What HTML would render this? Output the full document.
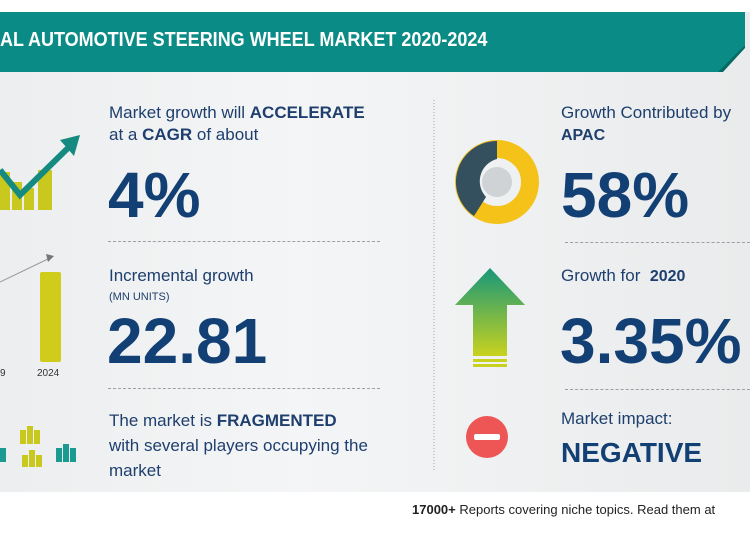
<!DOCTYPE html>
<html><head><meta charset="utf-8"><style>
body{margin:0;width:750px;height:536px;overflow:hidden;position:relative;font-family:"Liberation Sans",sans-serif;background:#fff}
.bg{position:absolute;left:0;top:12px;width:750px;height:480px;background:linear-gradient(90deg,#eceeef,#f4f5f6 40%,#eef0f1 70%,#e9ebec)}
.t{position:absolute;color:#1e3f6e;white-space:nowrap}
.n{font-weight:bold;color:#123f74;letter-spacing:0}
.sep{position:absolute;border-top:1px dashed #9aa0a5;height:0}
</style></head><body>
<div class="bg"></div>
<svg style="position:absolute;left:0;top:0" width="750" height="536">
<polygon points="0,12 745,12 745,45 720,72 0,72" fill="#0a8b85"/>
<polygon points="718,72 745,45 745,48 723,72" fill="#066a64"/>
<line x1="434" y1="100" x2="434" y2="470" stroke="#a0a5aa" stroke-dasharray="1,2"/>
<rect x="0" y="172" width="10" height="38" fill="#c8c81e"/>
<rect x="12" y="182" width="10" height="28" fill="#c8c81e"/>
<rect x="24" y="188" width="10" height="22" fill="#c8c81e"/>
<rect x="38" y="170" width="14" height="40" fill="#c8c81e"/>
<polyline points="0,170 20,195 68,148" fill="none" stroke="#148a80" stroke-width="6"/>
<polygon points="60,140 80,135 74,156" fill="#148a80"/>
<line x1="0" y1="282" x2="50" y2="258" stroke="#999" stroke-width="1"/>
<polygon points="46,254 54,256 48,262" fill="#777"/>
<rect x="40" y="272" width="21" height="90" rx="2" fill="#cfcc1c"/>
<text x="37" y="376" font-size="10" fill="#333" font-family="Liberation Sans">2024</text>
<text x="0" y="376" font-size="10" fill="#333" font-family="Liberation Sans">9</text>
<g fill="#c8c81e"><rect x="20" y="430" width="6" height="14"/><rect x="27" y="426" width="6" height="18"/><rect x="34" y="430" width="6" height="14"/>
<rect x="22" y="455" width="6" height="12"/><rect x="29" y="450" width="6" height="17"/><rect x="36" y="455" width="6" height="12"/></g>
<g fill="#1a9a90"><rect x="0" y="448" width="6" height="14"/><rect x="56" y="448" width="6" height="14"/><rect x="63" y="444" width="6" height="18"/><rect x="70" y="448" width="6" height="14"/></g>
<circle cx="497" cy="182" r="33" fill="none" stroke="#f5c21a" stroke-width="18"/>
<path d="M497 141 A41 41 0 0 0 474 216 L486 197 A23 23 0 0 1 497 159 Z" fill="#34505e"/>
<circle cx="497" cy="182" r="15" fill="#cfd3d6"/>
<defs><linearGradient id="g" x1="0" y1="0" x2="0" y2="1"><stop offset="0" stop-color="#16977a"/><stop offset="1" stop-color="#c8d21e"/></linearGradient></defs>
<polygon points="490,268 525,305 507,305 507,356 473,356 473,305 455,305" fill="url(#g)"/>
<rect x="473" y="359" width="34" height="3" fill="#c8d21e"/><rect x="473" y="364" width="34" height="3" fill="#c8d21e"/>
<circle cx="487" cy="437" r="21" fill="#ee5656"/>
<rect x="474" y="434" width="26" height="6" rx="2" fill="#fff"/>
</svg>
<div class="t" style="left:0;top:29px;color:#fff;font-weight:bold;font-size:20px;transform:scaleX(0.9);transform-origin:left">AL AUTOMOTIVE STEERING WHEEL MARKET 2020-2024</div>
<div class="t" style="left:109px;top:102px;font-size:17px;line-height:22px">Market growth will <b>ACCELERATE</b><br>at a <b>CAGR</b> of about</div>
<div class="t n" style="left:108px;top:158px;font-size:64px">4%</div>
<div class="sep" style="left:108px;top:241px;width:272px"></div>
<div class="t" style="left:109px;top:266px;font-size:17px">Incremental growth</div>
<div class="t" style="left:109px;top:291px;font-size:11px">(MN UNITS)</div>
<div class="t n" style="left:107px;top:304px;font-size:64px">22.81</div>
<div class="sep" style="left:108px;top:388px;width:272px"></div>
<div class="t" style="left:109px;top:408px;font-size:17px;line-height:25px">The market is <b>FRAGMENTED</b><br>with several players occupying the<br>market</div>
<div class="t" style="left:561px;top:102px;font-size:17px;line-height:22px">Growth Contributed by<br><b style="font-size:16px">APAC</b></div>
<div class="t n" style="left:561px;top:158px;font-size:64px">58%</div>
<div class="sep" style="left:565px;top:242px;width:185px"></div>
<div class="t" style="left:561px;top:266px;font-size:17px">Growth for &nbsp;<b style="font-size:16px">2020</b></div>
<div class="t n" style="left:560px;top:304px;font-size:64px">3.35%</div>
<div class="sep" style="left:565px;top:389px;width:185px"></div>
<div class="t" style="left:561px;top:409px;font-size:17px">Market impact:</div>
<div class="t n" style="left:561px;top:437px;font-size:28px">NEGATIVE</div>
<div class="t" style="left:412px;top:502px;font-size:13px;color:#222"><b>17000+</b> Reports covering niche topics. Read them at</div>
</body></html>
